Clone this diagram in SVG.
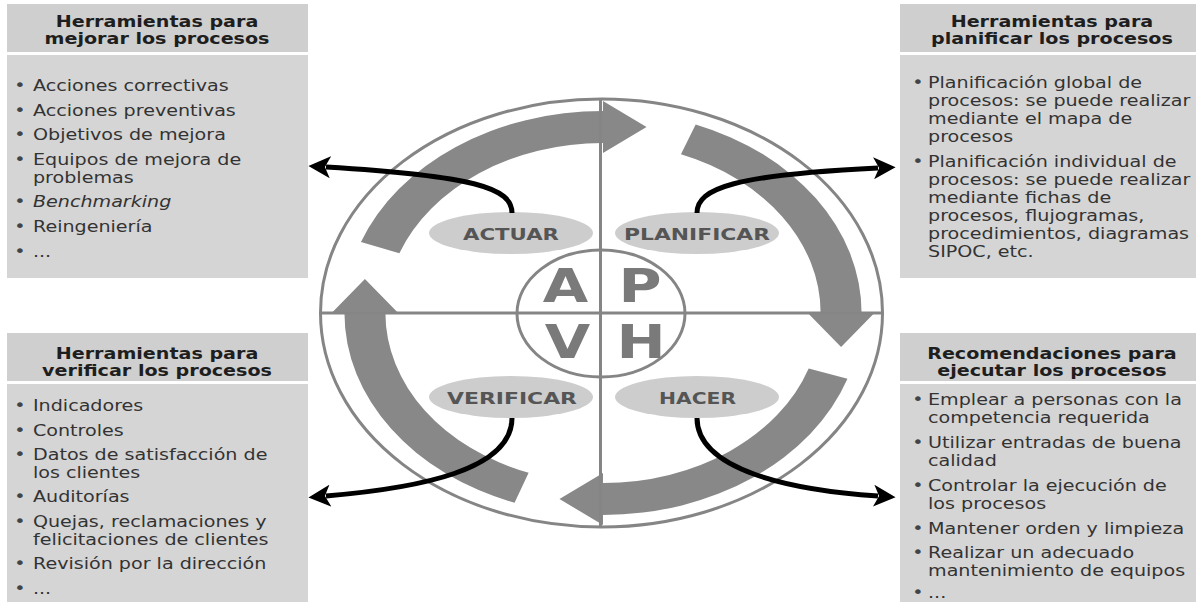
<svg xmlns="http://www.w3.org/2000/svg" width="1196" height="602" viewBox="0 0 1196 602">
<defs>
<style>
.hd{fill:#cfcfcf}
.bd{fill:#d5d5d5}
.ht{font-family:"DejaVu Sans",Verdana,sans-serif;font-weight:bold;font-size:16px;fill:#1e1e1e;text-anchor:middle}
.bt{font-family:"DejaVu Sans",Verdana,sans-serif;font-size:16px;fill:#333}
.bu{font-family:"DejaVu Sans",Verdana,sans-serif;font-size:16px;fill:#444;text-anchor:middle}
.band{fill:#888}
.ring{fill:none;stroke:#858585;stroke-width:3}
.axis{stroke:#858585;stroke-width:3}
.lbl{fill:#cdcdcd}
.lt{font-family:"DejaVu Sans",Verdana,sans-serif;font-weight:bold;font-size:16px;fill:#555;text-anchor:middle}
.big{font-family:"DejaVu Sans",Verdana,sans-serif;font-weight:bold;font-size:47px;fill:#7a7a7a;text-anchor:middle}
.con{fill:none;stroke:#000;stroke-width:5;marker-end:url(#ah)}
</style>
<marker id="ah" markerUnits="userSpaceOnUse" markerWidth="22" markerHeight="22" viewBox="0 0 20 20" refX="4" refY="10" orient="auto">
<path d="M0,0 L20,10 L0,20 L5,10 Z" fill="#000"/>
</marker>
</defs>
<rect width="1196" height="602" fill="#fff"/>

<g id="box-mejorar">
<rect class="hd" x="7" y="4" width="301" height="48"/>
<rect class="bd" x="7" y="55" width="301" height="223"/>
<g transform="scale(1.195,1)">
<text class="ht" x="131.4" y="27">Herramientas para</text>
<text class="ht" x="131.4" y="44">mejorar los procesos</text>
<text class="bu" x="16.7" y="91">•</text><text class="bt" x="27.6" y="91">Acciones correctivas</text>
<text class="bu" x="16.7" y="116">•</text><text class="bt" x="27.6" y="116">Acciones preventivas</text>
<text class="bu" x="16.7" y="140">•</text><text class="bt" x="27.6" y="140">Objetivos de mejora</text>
<text class="bu" x="16.7" y="165">•</text><text class="bt" x="27.6" y="165">Equipos de mejora de</text>
<text class="bt" x="27.6" y="183">problemas</text>
<text class="bu" x="16.7" y="207">•</text><text class="bt" x="27.6" y="207" font-style="italic">Benchmarking</text>
<text class="bu" x="16.7" y="232">•</text><text class="bt" x="27.6" y="232">Reingeniería</text>
<text class="bu" x="16.7" y="257">•</text><text class="bt" x="27.6" y="257">...</text>
</g>
</g>

<g id="box-planificar">
<rect class="hd" x="900" y="4" width="296" height="48"/>
<rect class="bd" x="900" y="55" width="296" height="223"/>
<g transform="scale(1.195,1)">
<text class="ht" x="880.3" y="27">Herramientas para</text>
<text class="ht" x="880.3" y="44">planificar los procesos</text>
<text class="bu" x="768.2" y="88">•</text><text class="bt" x="776.6" y="88">Planificación global de</text>
<text class="bt" x="776.6" y="106">procesos: se puede realizar</text>
<text class="bt" x="776.6" y="124">mediante el mapa de</text>
<text class="bt" x="776.6" y="142">procesos</text>
<text class="bu" x="768.2" y="167">•</text><text class="bt" x="776.6" y="167">Planificación individual de</text>
<text class="bt" x="776.6" y="185">procesos: se puede realizar</text>
<text class="bt" x="776.6" y="203">mediante fichas de</text>
<text class="bt" x="776.6" y="221">procesos, flujogramas,</text>
<text class="bt" x="776.6" y="239">procedimientos, diagramas</text>
<text class="bt" x="776.6" y="257">SIPOC, etc.</text>
</g>
</g>

<g id="box-verificar">
<rect class="hd" x="7" y="333" width="301" height="48"/>
<rect class="bd" x="7" y="384" width="301" height="218"/>
<g transform="scale(1.195,1)">
<text class="ht" x="131.4" y="359">Herramientas para</text>
<text class="ht" x="131.4" y="376">verificar los procesos</text>
<text class="bu" x="16.7" y="411">•</text><text class="bt" x="27.6" y="411">Indicadores</text>
<text class="bu" x="16.7" y="436">•</text><text class="bt" x="27.6" y="436">Controles</text>
<text class="bu" x="16.7" y="460">•</text><text class="bt" x="27.6" y="460">Datos de satisfacción de</text>
<text class="bt" x="27.6" y="478">los clientes</text>
<text class="bu" x="16.7" y="502">•</text><text class="bt" x="27.6" y="502">Auditorías</text>
<text class="bu" x="16.7" y="527">•</text><text class="bt" x="27.6" y="527">Quejas, reclamaciones y</text>
<text class="bt" x="27.6" y="545">felicitaciones de clientes</text>
<text class="bu" x="16.7" y="569">•</text><text class="bt" x="27.6" y="569">Revisión por la dirección</text>
<text class="bu" x="16.7" y="594">•</text><text class="bt" x="27.6" y="594">...</text>
</g>
</g>

<g id="box-ejecutar">
<rect class="hd" x="900" y="333" width="296" height="48"/>
<rect class="bd" x="900" y="384" width="296" height="218"/>
<g transform="scale(1.195,1)">
<text class="ht" x="880.3" y="359">Recomendaciones para</text>
<text class="ht" x="880.3" y="376">ejecutar los procesos</text>
<text class="bu" x="768.2" y="405">•</text><text class="bt" x="776.6" y="405">Emplear a personas con la</text>
<text class="bt" x="776.6" y="423">competencia requerida</text>
<text class="bu" x="768.2" y="448">•</text><text class="bt" x="776.6" y="448">Utilizar entradas de buena</text>
<text class="bt" x="776.6" y="466">calidad</text>
<text class="bu" x="768.2" y="491">•</text><text class="bt" x="776.6" y="491">Controlar la ejecución de</text>
<text class="bt" x="776.6" y="509">los procesos</text>
<text class="bu" x="768.2" y="534">•</text><text class="bt" x="776.6" y="534">Mantener orden y limpieza</text>
<text class="bu" x="768.2" y="558">•</text><text class="bt" x="776.6" y="558">Realizar un adecuado</text>
<text class="bt" x="776.6" y="576">mantenimiento de equipos</text>
<text class="bu" x="768.2" y="598">•</text><text class="bt" x="776.6" y="598">...</text>
</g>
</g>

<g id="cycle">
<g transform="translate(603,313) scale(1.28,1)">
<path class="band" d="M-189.1,-71.1 A202,202 0 0 1 0,-202 L0,-212 L34,-186 L0,-160 L0,-170 A170,170 0 0 0 -159.1,-59.8 Z"/>
<path class="band" d="M72.4,-188.6 A202,202 0 0 1 202,0 L212,0 L186,34 L160,0 L170,0 A170,170 0 0 0 60.9,-158.7 Z"/>
<path class="band" d="M191,65.8 A202,202 0 0 1 0,202 L0,212 L-34,186 L0,160 L0,170 A170,170 0 0 0 160.7,55.4 Z"/>
<path class="band" d="M-69.1,189.8 A202,202 0 0 1 -202,0 L-212,0 L-186,-34 L-160,0 L-170,0 A170,170 0 0 0 -58.1,159.7 Z"/>
</g>
<ellipse class="ring" cx="601.5" cy="313" rx="281" ry="214"/>
<line class="axis" x1="600.5" y1="99" x2="600.5" y2="527"/>
<line class="axis" x1="320" y1="313" x2="883" y2="313"/>
<ellipse class="ring" cx="601" cy="313.5" rx="84" ry="63.5" stroke-width="2.5"/>
<text class="big" transform="translate(565.5,302) scale(1.25,1)">A</text>
<text class="big" transform="translate(640,302) scale(1.25,1)">P</text>
<text class="big" transform="translate(567.5,358) scale(1.25,1)">V</text>
<text class="big" transform="translate(641,358) scale(1.25,1)">H</text>
</g>

<g id="actuar">
<ellipse class="lbl" cx="511" cy="233" rx="82" ry="21"/>
<text class="lt" x="511" y="240" textLength="96" lengthAdjust="spacingAndGlyphs">ACTUAR</text>
</g>
<g id="planificar">
<ellipse class="lbl" cx="697" cy="233" rx="82" ry="21"/>
<text class="lt" x="697" y="240" textLength="146" lengthAdjust="spacingAndGlyphs">PLANIFICAR</text>
</g>
<g id="verificar">
<ellipse class="lbl" cx="511" cy="397" rx="82" ry="21"/>
<text class="lt" x="512" y="404" textLength="130" lengthAdjust="spacingAndGlyphs">VERIFICAR</text>
</g>
<g id="hacer">
<ellipse class="lbl" cx="697" cy="397" rx="82" ry="21"/>
<text class="lt" x="697.5" y="404" textLength="77" lengthAdjust="spacingAndGlyphs">HACER</text>
</g>

<g id="connectors">
<path class="con" d="M512,213 C512,188 475,176 326,167"/>
<path class="con" d="M697,213 C697,188 735,175 878,168"/>
<path class="con" d="M512,418 C512,470 420,488 326,496"/>
<path class="con" d="M697,418 C697,470 790,490 878,496"/>
</g>
</svg>
